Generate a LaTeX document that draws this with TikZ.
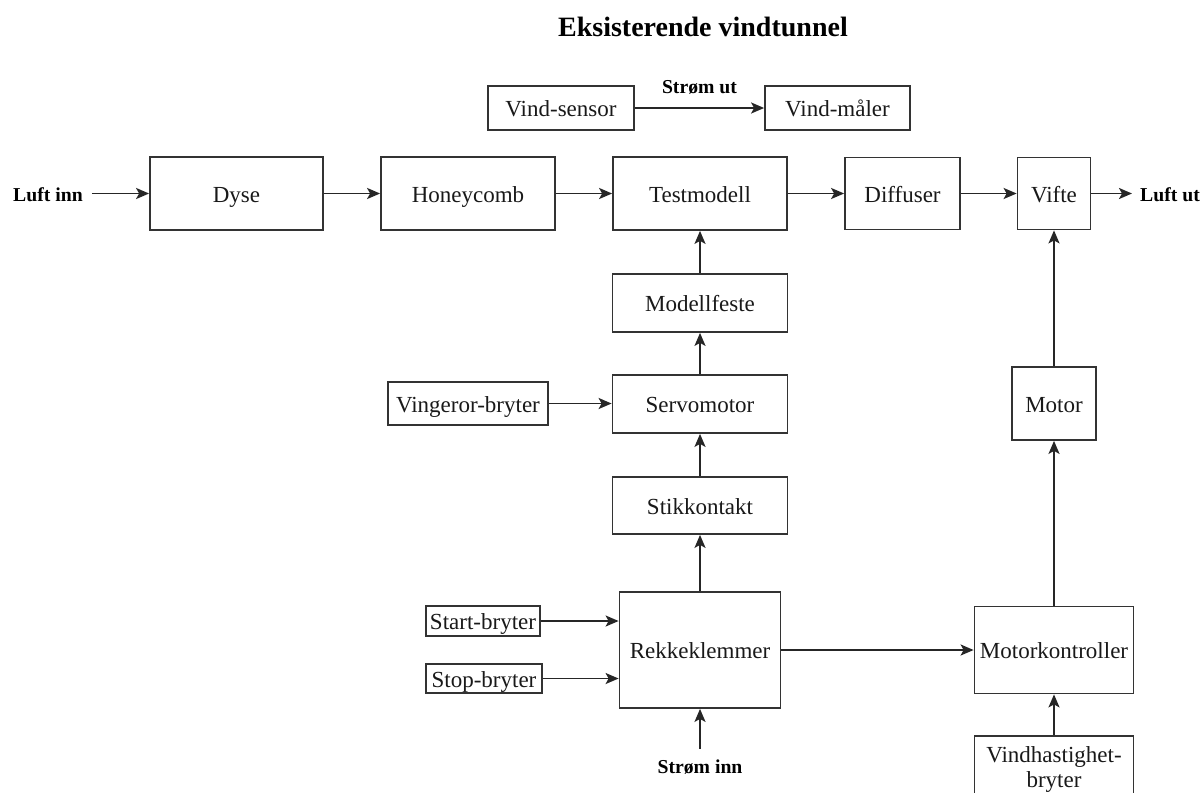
\documentclass[tikz,border=0pt]{standalone}
\usepackage{fontspec}
\setmainfont{Liberation Serif}
\usetikzlibrary{arrows.meta}

\tikzset{
  blk/.style={draw=black!80, line width=1.8pt, inner sep=0pt, align=center,
    font=\fontsize{23}{25}\selectfont, text=black!90,
    text height=17pt, text depth=0pt},
  lbl/.style={inner sep=0pt, font=\fontsize{19.7}{23}\selectfont\bfseries,
    text height=16pt, text depth=0pt},
  arr/.style={draw=black!85, line width=1.8pt,
    -{Stealth[length=13pt, width=11pt, inset=3pt]}},
}

\begin{document}
\begin{tikzpicture}[x=1pt, y=-1pt]
  \useasboundingbox[fill=white] (0,0) rectangle (1204,792);

  % heading
  \node[anchor=base, inner sep=0pt, font=\fontsize{28}{32}\selectfont\bfseries]
    (title) at (703,37) {Eksisterende vindtunnel};

  % wind measurement chain
  \node[blk, minimum width=146pt, minimum height=44pt] (sensor) at (561,108) {Vind-sensor};
  \node[blk, minimum width=145pt, minimum height=44pt] (maaler) at (837.5,108) {Vind-måler};
  \node[lbl, anchor=base] (stromut) at (699.5,93) {Strøm ut};
  \draw[arr] (sensor) -- (maaler);

  % air path through the tunnel
  \node[lbl] (luftinn) at (48,193.5) {Luft inn};
  \node[blk, minimum width=173pt, minimum height=73pt] (dyse)  at (236.5,193.5) {Dyse};
  \node[blk, minimum width=174pt, minimum height=73pt] (honey) at (468,193.5) {Honeycomb};
  \node[blk, minimum width=174pt, minimum height=73pt] (test)  at (700,193.5) {Testmodell};
  \node[blk, minimum width=115pt, minimum height=72pt] (diff)  at (902.5,193.5) {Diffuser};
  \node[blk, minimum width=73pt,  minimum height=72pt] (vifte) at (1054,193.5) {Vifte};
  \node[lbl, anchor=west] (luftut) at (1140,193.5) {Luft ut};

  \draw[arr, shorten <=9pt] (luftinn) -- (dyse);
  \draw[arr] (dyse) -- (honey);
  \draw[arr] (honey) -- (test);
  \draw[arr] (test) -- (diff);
  \draw[arr] (diff) -- (vifte);
  \draw[arr, shorten >=8pt] (vifte) -- (luftut);

  % model support column
  \node[blk, minimum width=175pt, minimum height=58pt] (feste) at (700,303) {Modellfeste};
  \node[blk, minimum width=175pt, minimum height=58pt] (servo) at (700,404) {Servomotor};
  \node[blk, minimum width=160pt, minimum height=43pt] (vinge) at (468,403.5) {Vingeror-bryter};
  \node[blk, minimum width=175pt, minimum height=57pt] (stikk) at (700,505.5) {Stikkontakt};
  \node[blk, minimum width=161pt, minimum height=116pt] (rekke) at (700,650) {Rekkeklemmer};
  \node[blk, minimum width=114pt, minimum height=30pt] (start) at (483,621) {Start-bryter};
  \node[blk, minimum width=116pt, minimum height=29pt] (stop)  at (484,678.5) {Stop-bryter};
  \node[lbl, anchor=base] (strominn) at (700,773) {Strøm inn};

  \draw[arr] (feste) -- (test);
  \draw[arr] (servo) -- (feste);
  \draw[arr] (vinge) -- (vinge -| servo.west);
  \draw[arr] (stikk) -- (servo);
  \draw[arr] (rekke) -- (stikk);
  \draw[arr] (start) -- (start -| rekke.west);
  \draw[arr] (stop) -- (stop -| rekke.west);
  \draw[arr, shorten <=8pt] (strominn) -- (rekke);

  % fan drive column
  \node[blk, minimum width=84pt,  minimum height=73pt] (motor) at (1054,403.5) {Motor};
  \node[blk, minimum width=159pt, minimum height=87pt] (mk)    at (1054,650) {Motorkontroller};
  \node[blk, minimum width=159pt, minimum height=66pt, text height=, text depth=]
    (vh) at (1054,769) {Vindhastighet-\\bryter};

  \draw[arr] (motor) -- (vifte);
  \draw[arr] (mk) -- (motor);
  \draw[arr] (vh) -- (mk);
  \draw[arr] (rekke) -- (mk);
\end{tikzpicture}
\end{document}
